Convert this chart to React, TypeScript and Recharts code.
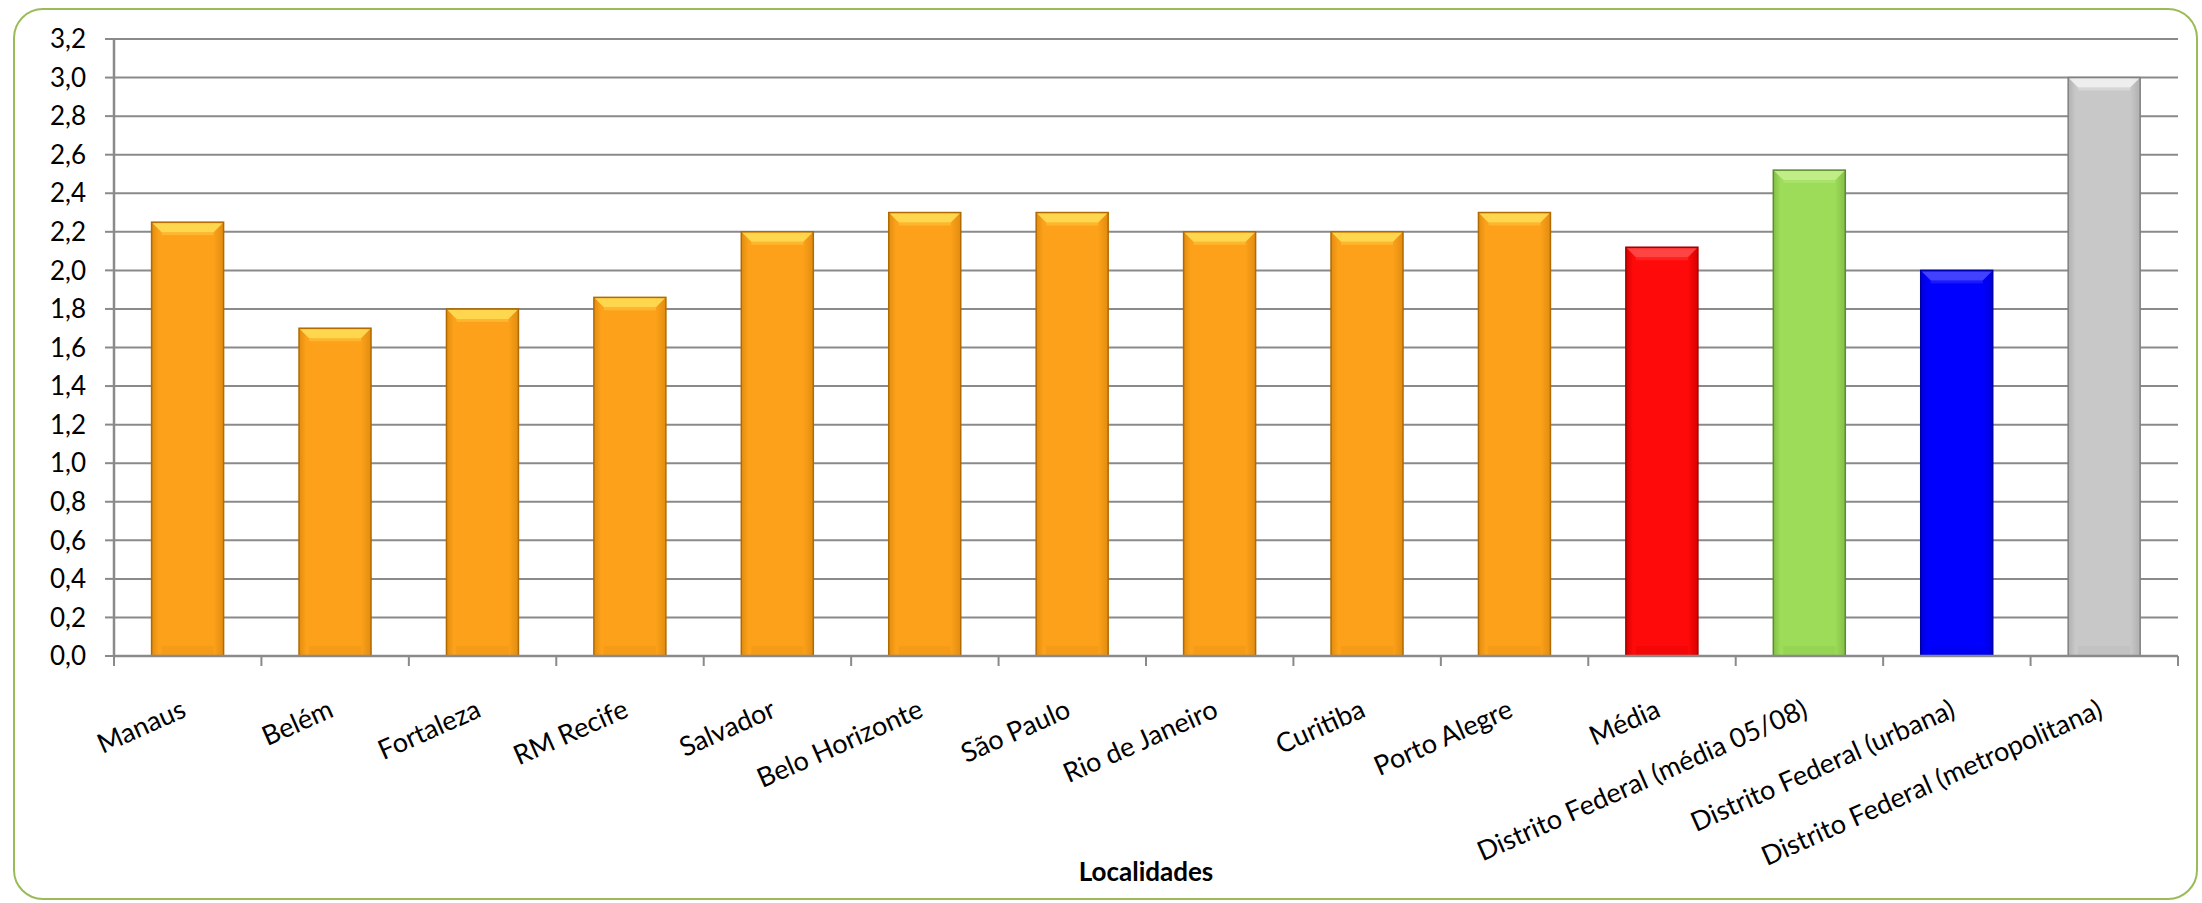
import React from "react";
import { BarChart, Bar, XAxis, YAxis, CartesianGrid, Cell } from "recharts";

const categories = [
  "Manaus",
  "Belém",
  "Fortaleza",
  "RM Recife",
  "Salvador",
  "Belo Horizonte",
  "São Paulo",
  "Rio de Janeiro",
  "Curitiba",
  "Porto Alegre",
  "Média",
  "Distrito Federal (média 05/08)",
  "Distrito Federal (urbana)",
  "Distrito Federal (metropolitana)",
];

const values = [2.25, 1.7, 1.8, 1.86, 2.2, 2.3, 2.3, 2.2, 2.2, 2.3, 2.12, 2.52, 2.0, 3.0];

const colorKeys = [
  "orange", "orange", "orange", "orange", "orange", "orange", "orange",
  "orange", "orange", "orange", "red", "green", "blue", "gray",
];

const yTicks = [0, 0.2, 0.4, 0.6, 0.8, 1.0, 1.2, 1.4, 1.6, 1.8, 2.0, 2.2, 2.4, 2.6, 2.8, 3.0, 3.2];

const xTitle = "Localidades";

const palette: Record<string, { base: string; light: string; dark: string; edge: string }> = {
  orange: { base: "#FCA119", light: "#FFDD55", dark: "#E28C10", edge: "#B06A00" },
  red: { base: "#FF0A0A", light: "#FF4A4A", dark: "#D80000", edge: "#A00000" },
  green: { base: "#9CDC58", light: "#C4EE8C", dark: "#84BE48", edge: "#5E8A30" },
  blue: { base: "#0000FF", light: "#4848FF", dark: "#0000D8", edge: "#0000A8" },
  gray: { base: "#C8C8C8", light: "#F2F2F2", dark: "#B0B0B0", edge: "#808080" },
};

const data = categories.map((name, i) => ({ name, value: values[i], color: colorKeys[i] }));

const FONT = "Lato, 'Open Sans', sans-serif";
const GRID = "#8a8a8a";

const CHART_W = 2202;
const CHART_H = 903;
const MARGIN = { top: 39, right: 24, bottom: 0, left: 0 };
const Y_W = 114;
const X_H = 247;

const BarShape = (props: any) => {
  const { x, y, width, height, payload, index } = props;
  if (!height || height <= 0) return null;
  const p = palette[payload.color];
  const id = `grad-${index}`;
  const b = Math.min(10, width / 6);
  return (
    <g>
      <defs>
        <linearGradient id={id} x1="0" y1="0" x2="1" y2="0">
          <stop offset="0" stopColor={p.dark} />
          <stop offset="0.1" stopColor={p.base} />
          <stop offset="0.86" stopColor={p.base} />
          <stop offset="1" stopColor={p.dark} />
        </linearGradient>
      </defs>
      <rect x={x} y={y} width={width} height={height} fill={`url(#${id})`} stroke={p.edge} strokeWidth={1.5} />
      <polygon
        points={`${x + 1},${y + 1} ${x + width - 1},${y + 1} ${x + width - b},${y + b} ${x + b},${y + b}`}
        fill={p.light}
        opacity={0.9}
      />
      <rect x={x + b} y={y + b} width={Math.max(0, width - 2 * b)} height={3} fill={p.light} opacity={0.35} />
      <rect x={x + b} y={y + height - b} width={Math.max(0, width - 2 * b)} height={b - 1} fill={p.dark} opacity={0.25} />
    </g>
  );
};

const XTick = (props: any) => {
  const { x, y, payload, index, visibleTicksCount } = props;
  const band = (CHART_W - Y_W - MARGIN.right) / categories.length;
  const half = payload && payload.offset ? payload.offset : band / 2;
  const ty = y + 60;
  const isLast = index === (visibleTicksCount ? visibleTicksCount - 1 : categories.length - 1);
  return (
    <g>
      <line x1={x - half} y1={y} x2={x - half} y2={y + 10} stroke={GRID} strokeWidth={2} />
      {isLast && <line x1={x + half} y1={y} x2={x + half} y2={y + 10} stroke={GRID} strokeWidth={2} />}
      <text
        x={x}
        y={ty}
        textAnchor="end"
        fontFamily={FONT}
        fontSize={27}
        fill="#000"
        transform={`rotate(-24, ${x}, ${ty})`}
      >
        {payload.value}
      </text>
    </g>
  );
};

export default function App() {
  return (
    <div style={{ position: "absolute", left: 0, top: 0, width: CHART_W, height: CHART_H, background: "#fff", overflow: "hidden" }}>
      <div
        style={{
          position: "absolute",
          left: 13,
          top: 8,
          width: 2185,
          height: 892,
          border: "2.5px solid #9BBB59",
          borderRadius: 30,
          boxSizing: "border-box",
        }}
      />
      <div style={{ position: "absolute", left: 0, top: 0 }}>
        <BarChart width={CHART_W} height={CHART_H} data={data} margin={MARGIN} barCategoryGap="25.5%">
          <CartesianGrid horizontal={true} vertical={false} stroke={GRID} strokeWidth={2} />
          <XAxis
            dataKey="name"
            interval={0}
            height={X_H}
            tickSize={0}
            tickMargin={0}
            tickLine={false}
            axisLine={{ stroke: GRID, strokeWidth: 2.5 }}
            tick={<XTick />}
            label={{
              value: xTitle,
              position: "insideBottom",
              offset: 22,
              fontFamily: FONT,
              fontSize: 26,
              fontWeight: 700,
              fill: "#000",
            }}
          />
          <YAxis
            type="number"
            domain={[0, 3.2]}
            ticks={yTicks}
            interval={0}
            width={Y_W}
            tickSize={9}
            tickMargin={19}
            tickLine={{ stroke: GRID, strokeWidth: 2 }}
            axisLine={{ stroke: GRID, strokeWidth: 2.5 }}
            tick={{ fontFamily: FONT, fontSize: 26, fill: "#000" }}
            tickFormatter={(v: number) => v.toFixed(1).replace(".", ",")}
          />
          <Bar dataKey="value" isAnimationActive={false} shape={<BarShape />}>
            {data.map((d, i) => (
              <Cell key={i} fill={palette[d.color].base} />
            ))}
          </Bar>
        </BarChart>
      </div>
    </div>
  );
}
